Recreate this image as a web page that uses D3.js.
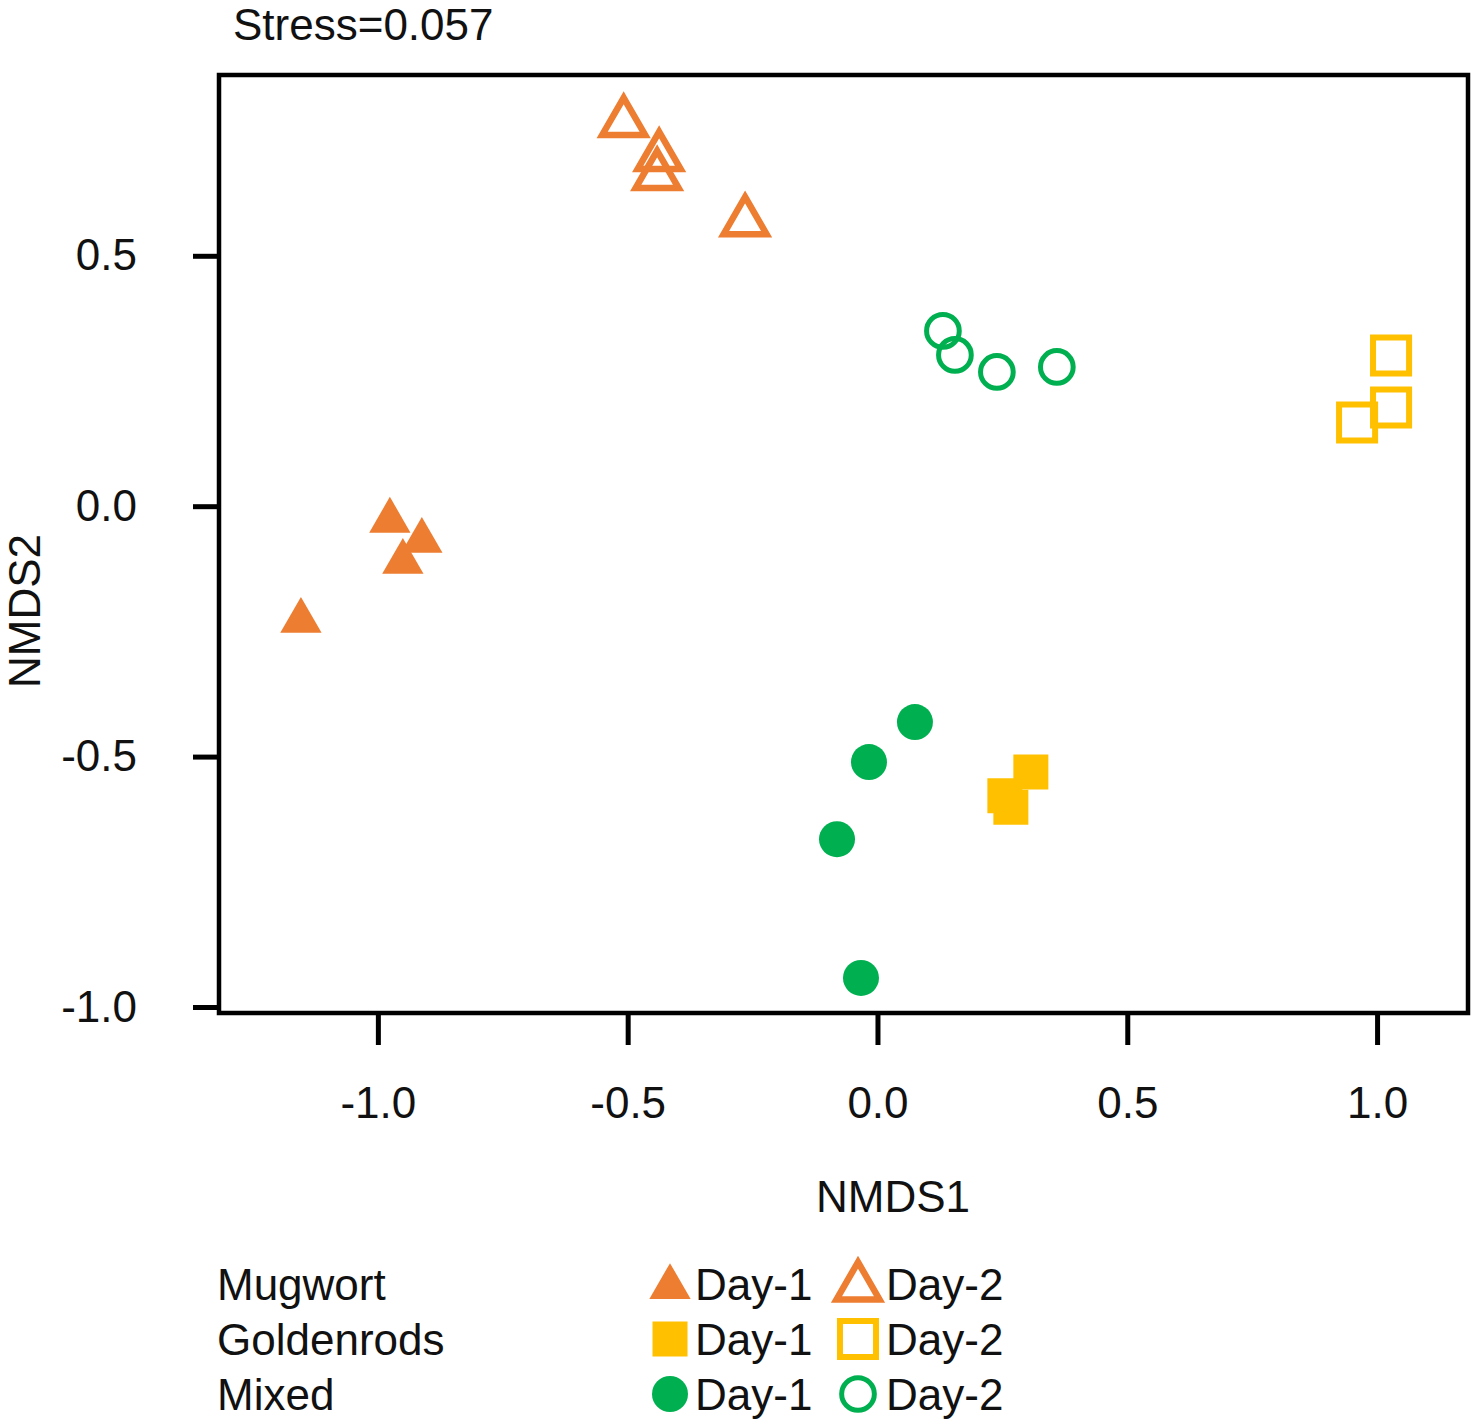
<!DOCTYPE html>
<html>
<head>
<meta charset="utf-8">
<script src="https://cdn.jsdelivr.net/npm/d3@7"></script>
<style>
  html, body { margin: 0; padding: 0; background: #fff; }
  svg { display: block; font-family: "Liberation Sans", Arial, sans-serif; }
</style>
</head>
<body>
<svg id="chart" width="1476" height="1419"></svg>
<script>
// ---- Data (NMDS1, NMDS2) ----
const mugwortDay1    = [[-0.976, -0.029], [-0.912, -0.069], [-0.950, -0.111], [-1.154, -0.229]];
const mugwortDay2    = [[-0.508, 0.766], [-0.437, 0.698], [-0.441, 0.660], [-0.265, 0.568]];
const goldenrodsDay1 = [[0.307, -0.531], [0.255, -0.578], [0.267, -0.601]];
const goldenrodsDay2 = [[1.028, 0.301], [1.028, 0.197], [0.960, 0.167]];
const mixedDay1      = [[0.075, -0.431], [-0.017, -0.511], [-0.081, -0.665], [-0.033, -0.942]];
const mixedDay2      = [[0.131, 0.350], [0.155, 0.302], [0.239, 0.268], [0.359, 0.278]];

const xTicks = [-1.0, -0.5, 0.0, 0.5, 1.0];
const yTicks = [-1.0, -0.5, 0.0, 0.5];
const groups = ["Mugwort", "Goldenrods", "Mixed"];
const days = ["Day-1", "Day-2"];
const stressLabel = "Stress=0.057";

// ---- Styling ----
const colors = { Mugwort: "#ED7D31", Goldenrods: "#FFC000", Mixed: "#00B050" };
const shapes = { Mugwort: d3.symbolTriangle, Goldenrods: d3.symbolSquare, Mixed: d3.symbolCircle };
const filledSize = { Mugwort: 740, Goldenrods: 1225, Mixed: 1018 };
const openSize = { Mugwort: 800, Goldenrods: 1300, Mixed: 840 };
const openStroke = { Mugwort: 6.5, Goldenrods: 6, Mixed: 5 };

const series = [
  { group: "Mugwort", day: 1, pts: mugwortDay1 },
  { group: "Mugwort", day: 2, pts: mugwortDay2 },
  { group: "Goldenrods", day: 1, pts: goldenrodsDay1 },
  { group: "Goldenrods", day: 2, pts: goldenrodsDay2 },
  { group: "Mixed", day: 1, pts: mixedDay1 },
  { group: "Mixed", day: 2, pts: mixedDay2 }
];

const svg = d3.select("#chart");
const box = { left: 219, right: 1468, top: 75, bottom: 1013 };

const x = d3.scaleLinear().domain([-1.318, 1.182]).range([box.left, box.right]);
const y = d3.scaleLinear().domain([-1.012, 0.861]).range([box.bottom, box.top]);

const fmt = v => v.toFixed(1);
const FS = 44;

// Axes
const yAxis = svg.append("g").attr("transform", `translate(${box.left},0)`)
  .call(d3.axisLeft(y).tickValues(yTicks).tickFormat(fmt).tickSize(26).tickPadding(56));
const xAxis = svg.append("g").attr("transform", `translate(0,${box.bottom})`)
  .call(d3.axisBottom(x).tickValues(xTicks).tickFormat(fmt).tickSize(32).tickPadding(42));
[xAxis, yAxis].forEach(g => {
  g.select(".domain").remove();
  g.selectAll(".tick line").attr("stroke", "#000").attr("stroke-width", 5);
  g.selectAll(".tick text").attr("fill", "#111").style("font-size", FS + "px")
    .style("font-family", '"Liberation Sans", Arial, sans-serif');
});

// Frame
svg.append("rect")
  .attr("x", box.left).attr("y", box.top)
  .attr("width", box.right - box.left).attr("height", box.bottom - box.top)
  .attr("fill", "none").attr("stroke", "#000").attr("stroke-width", 4.5);

// Points
const sym = (group, day) => d3.symbol().type(shapes[group]).size(day === 1 ? filledSize[group] : openSize[group])();
series.forEach(s => {
  svg.append("g").selectAll("path").data(s.pts).join("path")
    .attr("d", sym(s.group, s.day))
    .attr("transform", d => `translate(${x(d[0])},${y(d[1])})`)
    .attr("fill", s.day === 1 ? colors[s.group] : "none")
    .attr("stroke", s.day === 1 ? "none" : colors[s.group])
    .attr("stroke-width", s.day === 1 ? 0 : openStroke[s.group]);
});

// Titles
svg.append("text").attr("x", 233).attr("y", 40).attr("fill", "#111")
  .style("font-size", FS + "px").text(stressLabel);
svg.append("text").attr("x", 893).attr("y", 1212).attr("text-anchor", "middle").attr("fill", "#111")
  .style("font-size", FS + "px").text("NMDS1");
svg.append("text").attr("transform", "translate(40,611) rotate(-90)").attr("text-anchor", "middle").attr("fill", "#111")
  .style("font-size", FS + "px").text("NMDS2");

// Legend
const legendBase = [1300, 1355, 1410];
const symX = [670, 858];
const textX = [695, 886];
groups.forEach((g, i) => {
  const by = legendBase[i];
  svg.append("text").attr("x", 217).attr("y", by).attr("fill", "#111")
    .style("font-size", FS + "px").text(g);
  days.forEach((dname, j) => {
    const dayNum = j + 1;
    const cy = g === "Mugwort" ? by - 13 : by - 16;
    svg.append("path")
      .attr("d", sym(g, dayNum))
      .attr("transform", `translate(${symX[j]},${cy})`)
      .attr("fill", dayNum === 1 ? colors[g] : "none")
      .attr("stroke", dayNum === 1 ? "none" : colors[g])
      .attr("stroke-width", dayNum === 1 ? 0 : openStroke[g]);
    svg.append("text").attr("x", textX[j]).attr("y", by).attr("fill", "#111")
      .style("font-size", FS + "px").text(dname);
  });
});
</script>
</body>
</html>
